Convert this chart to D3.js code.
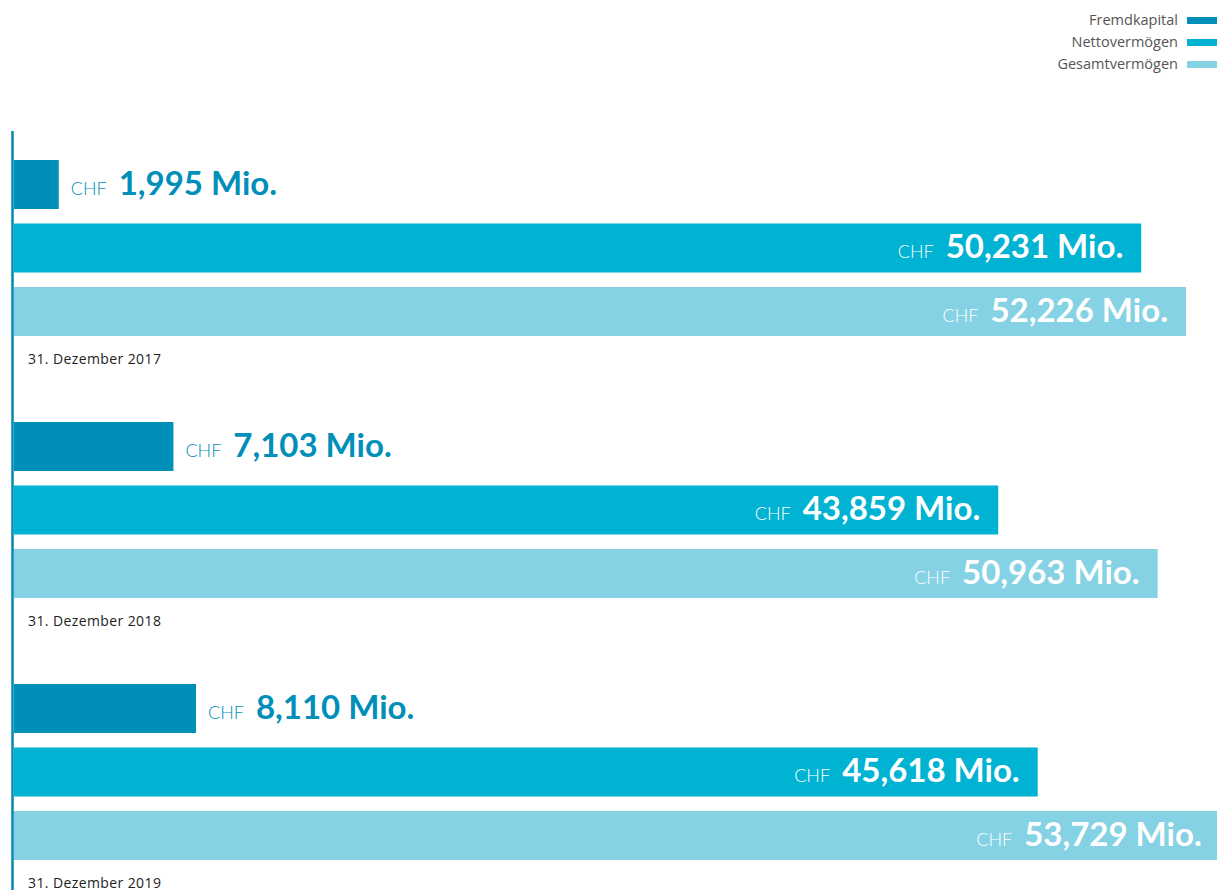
<!DOCTYPE html>
<html>
<head>
<meta charset="utf-8">
<script src="https://cdn.jsdelivr.net/npm/d3@7"></script>
<style>
  html, body { margin: 0; padding: 0; background: #fff; overflow: hidden; }
  svg { display: block; }
</style>
</head>
<body>
<svg id="chart" width="1217" height="890"></svg>
<script>
const dates = ["31. Dezember 2017", "31. Dezember 2018", "31. Dezember 2019"];
const seriesNames = ["Fremdkapital", "Nettovermögen", "Gesamtvermögen"];
const fremdkapital = [1995, 7103, 8110];
const nettovermoegen = [50231, 43859, 45618];
const gesamtvermoegen = [52226, 50963, 53729];
const colors = ["#008fb8", "#00b3d3", "#84d2e4"];

const valuesBySeries = [fremdkapital, nettovermoegen, gesamtvermoegen];
const rows = [];
dates.forEach((d, i) => {
  seriesNames.forEach((s, j) => {
    rows.push({ date: d, series: s, value: valuesBySeries[j][i], idx: j });
  });
});

const svg = d3.select("#chart");
const font = "Lato, 'Open Sans', sans-serif";
const smallFont = "'Open Sans', sans-serif";

const x = d3.scaleLinear().domain([0, 52226]).range([14, 1186]);
const yGroup = d3.scaleBand().domain(dates).range([160, 160 + 262 * 3]);
const yInner = d3.scaleBand().domain(seriesNames).range([0, 176]).paddingInner(0.2283);
const color = d3.scaleOrdinal().domain(seriesNames).range(colors);
const fmt = d3.format(",");

// axis line
svg.append("line")
  .attr("x1", 12.5).attr("x2", 12.5)
  .attr("y1", 131).attr("y2", 890)
  .attr("stroke", "#0089b2").attr("stroke-width", 2.5);

// bars
svg.selectAll("rect.bar").data(rows).enter().append("rect")
  .attr("class", "bar")
  .attr("x", x(0))
  .attr("y", d => yGroup(d.date) + yInner(d.series))
  .attr("width", d => x(d.value) - x(0))
  .attr("height", yInner.bandwidth())
  .attr("fill", d => color(d.series));

// value labels
const labels = svg.selectAll("text.val").data(rows).enter().append("text")
  .attr("class", "val")
  .attr("font-family", font)
  .attr("y", d => yGroup(d.date) + yInner(d.series) + 35)
  .attr("x", d => d.idx === 0 ? x(d.value) + 12 : x(d.value) - 18)
  .attr("text-anchor", d => d.idx === 0 ? "start" : "end")
  .attr("fill", d => d.idx === 0 ? "#008fb8" : "#ffffff");
labels.append("tspan")
  .attr("font-size", 18).attr("font-weight", 300)
  .text("CHF");
labels.append("tspan")
  .attr("dx", 12)
  .attr("font-size", 33).attr("font-weight", 700)
  .text(d => fmt(d.value) + " Mio.");

// date labels
svg.selectAll("text.date").data(dates).enter().append("text")
  .attr("class", "date")
  .attr("x", 28)
  .attr("y", d => yGroup(d) + 204)
  .attr("font-family", smallFont)
  .attr("font-size", 14)
  .attr("letter-spacing", 0.4)
  .attr("fill", "#222")
  .text(d => d);

// legend
const legend = svg.append("g");
seriesNames.forEach((s, i) => {
  const ly = 20 + i * 22;
  legend.append("rect")
    .attr("x", 1187).attr("y", ly - 3)
    .attr("width", 30).attr("height", 7)
    .attr("fill", color(s));
  legend.append("text")
    .attr("x", 1178).attr("y", ly + 5)
    .attr("text-anchor", "end")
    .attr("font-family", smallFont)
    .attr("font-size", 14.5)
    .attr("fill", "#555")
    .text(s);
});
</script>
</body>
</html>
